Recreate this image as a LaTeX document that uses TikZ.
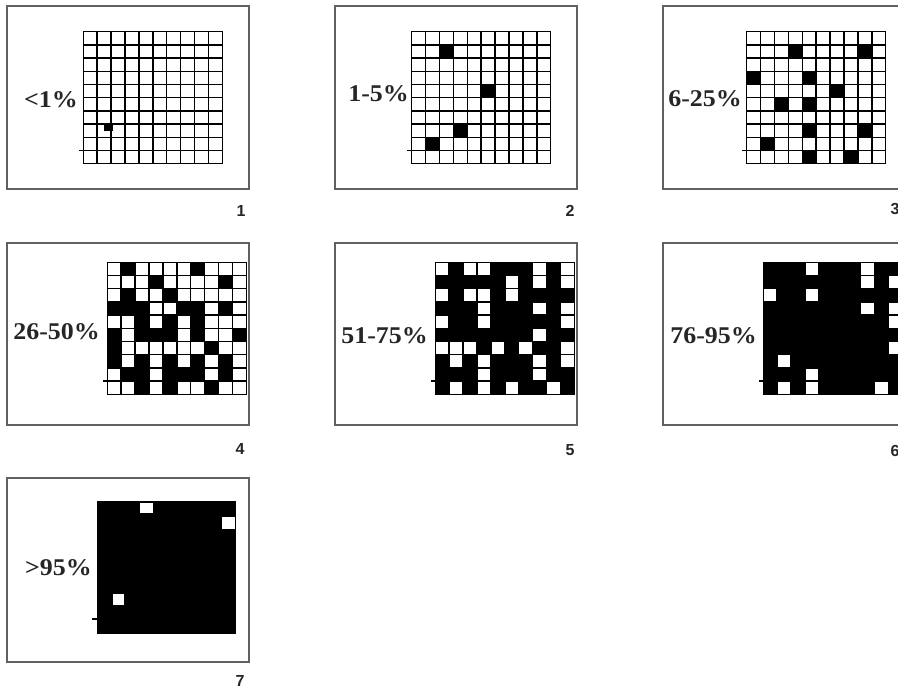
\documentclass[tikz,border=0pt]{standalone}
\usepackage{fontspec}
\setmainfont{Liberation Serif}
\setsansfont{Liberation Sans}
\tikzset{
  frame/.style={draw=black!62, line width=1.5pt},
  gridline/.style={draw=black, line width=1.5pt, line cap=rect},
  pct/.style={font=\fontsize{24}{24}\selectfont\bfseries, text=black!85, anchor=base east, inner sep=0pt, xscale=1.08},
  num/.style={font=\sffamily\bfseries\fontsize{16}{16}\selectfont, text=black!85, inner sep=0pt}
}
\newcommand{\gridlinesat}[2]{%
  \foreach \i in {0,...,10} {%
    \draw[gridline] ({#1+\i*13.9},#2) -- ({#1+\i*13.9},{#2+132});
    \draw[gridline] (#1,{#2+\i*13.2}) -- ({#1+139},{#2+\i*13.2});
  }%
  \draw[gridline] ({#1-4},{#2+9*13.2}) -- (#1,{#2+9*13.2});
}
\newcommand{\blackcells}[3]{%
  \foreach \c/\r in {#3} {\fill[black] ({#1+\c*13.9},{#2+\r*13.2}) rectangle ++(13.9,13.2);}%
}
\newcommand{\whitecells}[3]{%
  \fill[black] (#1,#2) rectangle ++(139,132);
  \foreach \c/\r in {#3} {\fill[white] ({#1+\c*13.9},{#2+\r*13.2}) rectangle ++(13.9,13.2);}%
}
\begin{document}
\begin{tikzpicture}[x=1pt,y=-1pt]
\clip (0,0) rectangle (898,692);
\fill[white] (0,0) rectangle (898,692);

% frames
\draw[frame] (7,6) rectangle (249,189);
\draw[frame] (335,6) rectangle (577,189);
\draw[frame] (663,6) rectangle (910,189);
\draw[frame] (7,243) rectangle (249,425);
\draw[frame] (335,243) rectangle (577,425);
\draw[frame] (663,243) rectangle (910,425);
\draw[frame] (7,478) rectangle (249,662);

% panel 1
\fill[black] (103.5,125) rectangle (112.5,131);
\gridlinesat{83.3}{31.7}
% panel 2
\blackcells{411.7}{31.7}{2/1,5/4,3/7,1/8}
\gridlinesat{411.7}{31.7}
% panel 3
\blackcells{746.7}{31.7}{3/1,8/1,0/3,4/3,6/4,2/5,4/5,4/7,8/7,1/8,4/9,7/9}
\gridlinesat{746.7}{31.7}
% panel 4
\blackcells{107.3}{262.3}{1/0,6/0,3/1,8/1,1/2,4/2,0/3,1/3,2/3,5/3,6/3,8/3,2/4,4/4,6/4,0/5,2/5,3/5,4/5,6/5,9/5,0/6,7/6,0/7,2/7,4/7,6/7,8/7,1/8,2/8,4/8,5/8,6/8,8/8,2/9,4/9,7/9}
\gridlinesat{107.3}{262.3}
% panel 5
\whitecells{435.3}{262.3}{0/0,2/0,3/0,7/0,9/0,5/1,7/1,9/1,0/2,2/2,3/2,5/2,3/3,7/3,9/3,0/4,3/4,9/4,7/5,0/6,1/6,2/6,4/6,6/6,9/6,1/7,3/7,7/7,9/7,3/8,7/8,1/9,3/9,5/9,8/9}
\gridlinesat{435.3}{262.3}
% panel 6
\whitecells{763.3}{262.3}{3/0,7/0,7/1,9/1,0/2,3/2,7/3,9/3,9/4,9/6,1/7,3/8,1/9,3/9,8/9}
\gridlinesat{763.3}{262.3}
% panel 7
\fill[black] (96.7,500.7) rectangle (236,634.3);
\fill[white] (140,503) rectangle (153,513);
\fill[white] (222,517) rectangle (235,529);
\fill[white] (113,594) rectangle (124,605);
\draw[gridline] (92.7,619) -- (96.7,619);

% labels
\node[pct] (l1) at (78,108) {<1\%};
\node[pct] (l2) at (409,101.5) {1-5\%};
\node[pct] (l3) at (742,106.5) {6-25\%};
\node[pct] (l4) at (100,340) {26-50\%};
\node[pct] (l5) at (428,344) {51-75\%};
\node[pct] (l6) at (757,344) {76-95\%};
\node[pct] (l7) at (92,576) {>95\%};

% numbers
\node[num] (n1) at (241,210.5) {1};
\node[num] (n2) at (570,211) {2};
\node[num] (n3) at (895,209) {3};
\node[num] (n4) at (240,448.5) {4};
\node[num] (n5) at (570,450.5) {5};
\node[num] (n6) at (895,451) {6};
\node[num] (n7) at (240,681) {7};
\end{tikzpicture}
\end{document}
